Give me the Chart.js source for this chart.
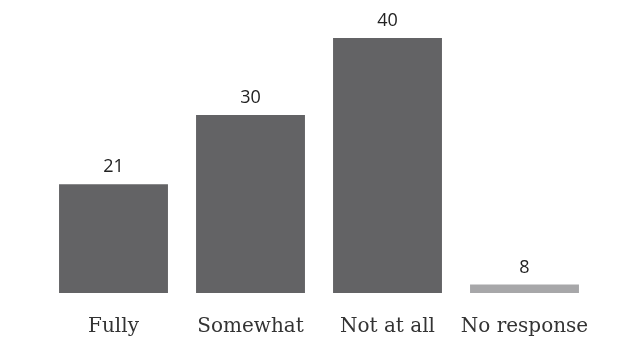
<!DOCTYPE html>
<html>
<head>
<meta charset="utf-8">
<style>
  html, body { margin: 0; padding: 0; background: #ffffff; }
  #wrap { width: 635px; height: 360px; }
</style>
<script src="https://cdn.jsdelivr.net/npm/chart.js@4/dist/chart.umd.min.js"></script>
</head>
<body>
<div id="wrap"><canvas id="chart" width="635" height="360"></canvas></div>
<script>
// Survey answers and their counts
const categories = ["Fully", "Somewhat", "Not at all", "No response"];
const counts = [21, 30, 40, 8];
const barColors = ["#636365", "#636365", "#636365", "#a7a7a9"];

// Writes each bar's value just above it
const valueLabels = {
  id: "valueLabels",
  afterDatasetsDraw(chart) {
    const ctx = chart.ctx;
    const meta = chart.getDatasetMeta(0);
    ctx.save();
    ctx.font = "18px 'Open Sans', sans-serif";
    ctx.fillStyle = "#222222";
    ctx.textAlign = "center";
    ctx.textBaseline = "middle";
    meta.data.forEach((bar, i) => {
      ctx.fillText(String(counts[i]), bar.x, bar.y - 17);
    });
    ctx.restore();
  }
};

new Chart(document.getElementById("chart"), {
  type: "bar",
  data: {
    labels: categories,
    datasets: [{
      data: counts,
      backgroundColor: barColors,
      borderWidth: 0,
      categoryPercentage: 1,
      barPercentage: 0.795
    }]
  },
  options: {
    responsive: false,
    animation: false,
    layout: { padding: { left: 45, right: 42, top: 38, bottom: 7 } },
    plugins: { legend: { display: false }, tooltip: { enabled: false } },
    scales: {
      y: { display: false, min: 6.9, max: 40 },
      x: {
        grid: { display: false },
        border: { display: false },
        ticks: {
          padding: 14,
          color: "#333333",
          font: { family: "'DejaVu Serif', serif", size: 20 }
        }
      }
    }
  },
  plugins: [valueLabels]
});
</script>
</body>
</html>
